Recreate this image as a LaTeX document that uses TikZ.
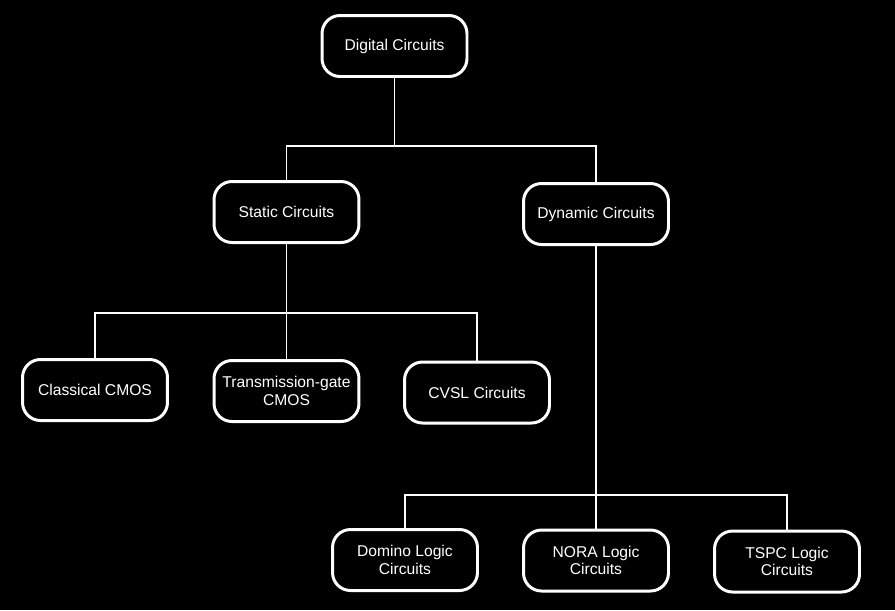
\documentclass[tikz,border=0pt]{standalone}
\usepackage{fontspec}
\setmainfont{Liberation Sans}
\usepackage{tikz}
\usetikzlibrary{positioning,calc}
\tikzset{%
  circuit/.style={draw=white, rectangle, rounded corners=0.36cm, line width=1.7pt,
    minimum width=2.9cm, minimum height=1.22cm, align=center, text=white,
    inner sep=1pt, font=\fontsize{8.9}{10}\selectfont},% class box
  branch/.style={draw=white, line width=0.85pt}% tree connectors
}

\begin{document}
\begin{tikzpicture}[x=0.02cm, y=-0.02cm]

\fill[black] (0,0) rectangle (895,610);
\useasboundingbox (0,0) rectangle (895,610);

\node[circuit] (digital) at (394.5, 46) {Digital Circuits};

\node[circuit] (static) at (286.5, 212) {Static Circuits};
\node[circuit] (dynamic) at (596, 214) {Dynamic Circuits};

\node[circuit] (classical) at (95, 390) {Classical CMOS};
\node[circuit] (tgate) at (286.5, 391) {Transmission-gate\\CMOS};
\node[circuit] (cvsl) at (477, 392.5) {CVSL Circuits};

\node[circuit] (domino) at (405, 560) {Domino Logic\\Circuits};
\node[circuit] (nora) at (596, 560.5) {NORA Logic\\Circuits};
\node[circuit] (tspc) at (787, 561.5) {TSPC Logic\\Circuits};

\coordinate (top split) at (digital |- 0, 146);
\coordinate (static split) at (static |- 0, 313);
\coordinate (dynamic split) at (dynamic |- 0, 495);

\draw[branch] (digital) -- (top split);
\draw[branch] (static) |- (top split) -| (dynamic);

\draw[branch] (static) -- (tgate);
\draw[branch] (classical) |- (static split) -| (cvsl);

\draw[branch] (dynamic) -- (nora);
\draw[branch] (domino) |- (dynamic split) -| (tspc);

\end{tikzpicture}
\end{document}
